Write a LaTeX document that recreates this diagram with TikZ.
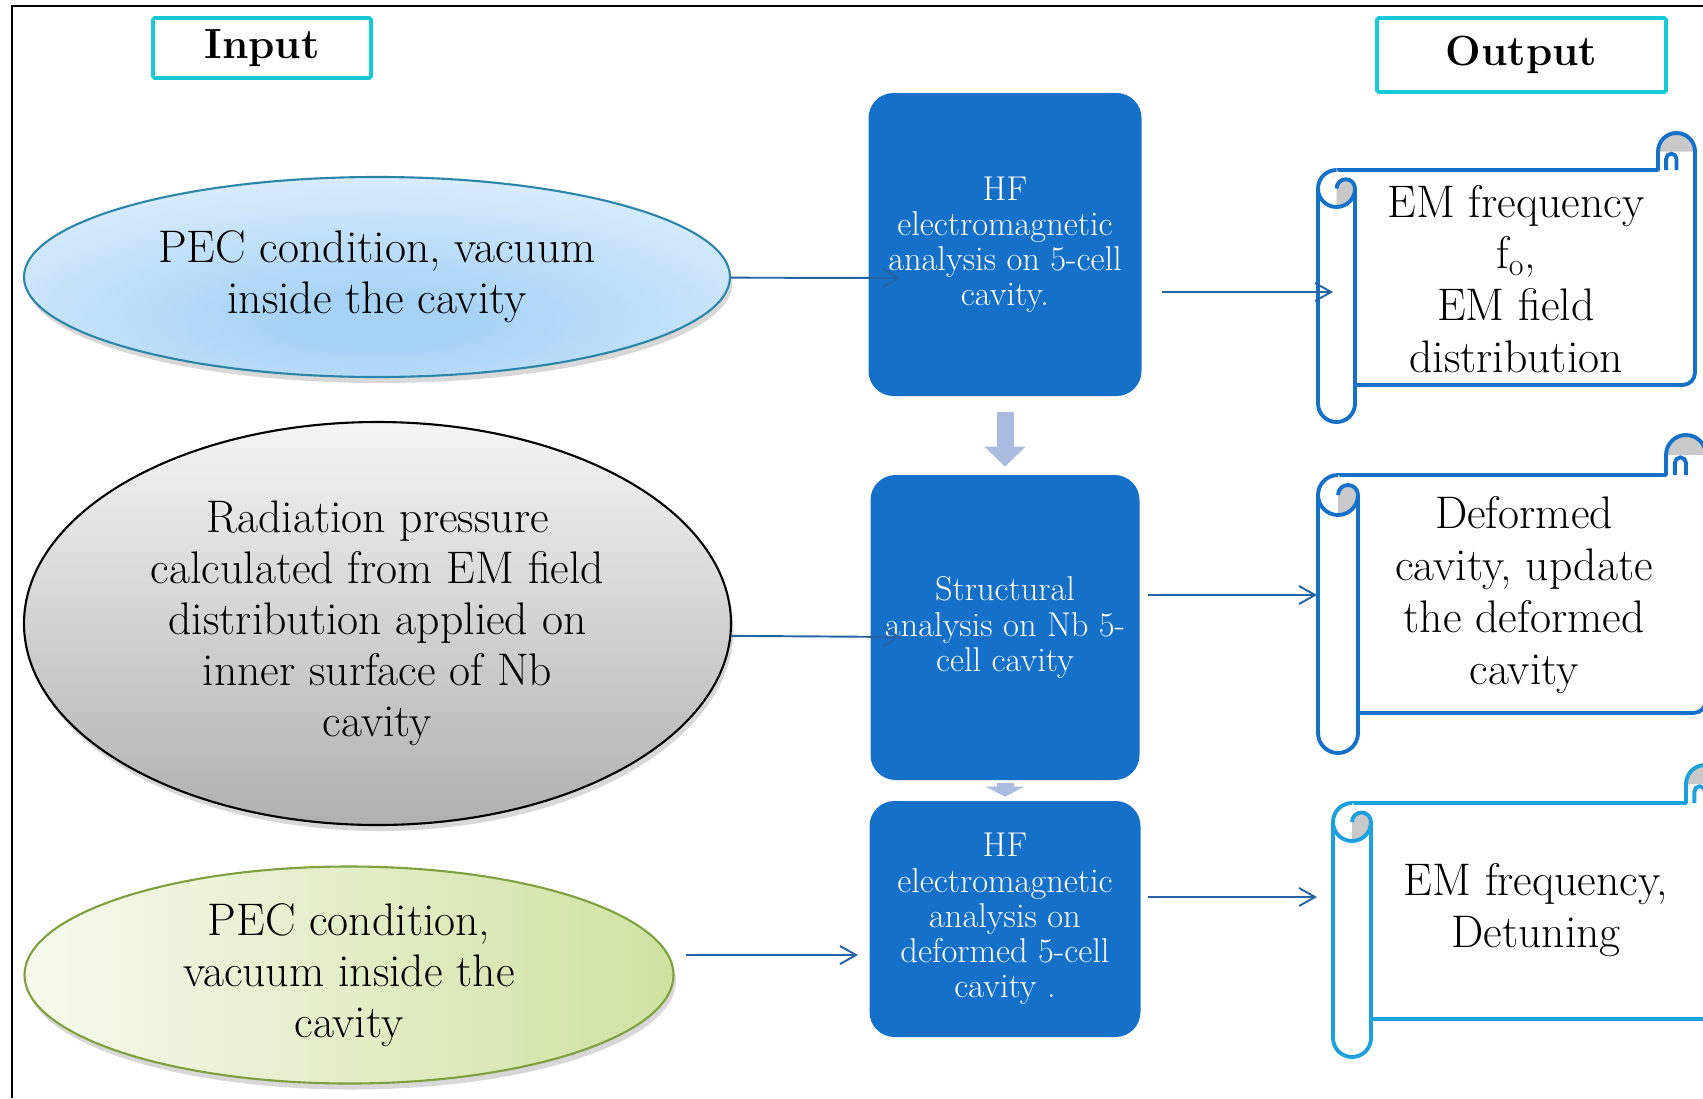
\documentclass[tikz,border=0pt]{standalone}
\usepackage{xcolor}
\definecolor{cavblue}{HTML}{1470C8}
\definecolor{cavlink}{HTML}{2463A6}
\definecolor{cavflow}{HTML}{A9BCE0}
\definecolor{cavcyan}{HTML}{17CAD8}
\definecolor{cavsky}{HTML}{1DA1DE}
\definecolor{cavgray}{HTML}{C9C9C9}
\definecolor{pecedge}{HTML}{2B86AA}
\definecolor{pecmid}{HTML}{A6D2F6}
\definecolor{pecpale}{HTML}{EEF7FF}
\definecolor{greenedge}{HTML}{7FA03F}
\definecolor{greenlight}{HTML}{F6FAEE}
\definecolor{greendark}{HTML}{CFE2A1}
\usepackage{tikz}
\usetikzlibrary{arrows.meta,positioning,shapes.geometric,shadows}
\pgfdeclareradialshading{pecshade}{\pgfpoint{0bp}{-12bp}}%
  {color(0bp)=(pecmid); color(6bp)=(pecmid); color(44bp)=(pecpale); color(100bp)=(pecpale)}

% scroll outline: #1 left, #2 top, #3 right, #4 bottom, #5 roll size, #6 colour
\newcommand{\drawscroll}[6]{%
  \fill[white] ({#1+#5/2},{#2-#5}) rectangle (#3,{#4+#5});
  \fill[cavgray] (#3,{#2-#5/2}) arc[start angle=0, end angle=180, radius=#5/2] -- cycle;
  \filldraw[draw=#6, fill=white, line width=2.2pt]
    ({#3-0.78*#5},{#2-#5}) -- ({#3-0.78*#5},{#2-0.7*#5})
    arc[start angle=180, end angle=0, radius=0.14*#5] -- ({#3-0.5*#5},{#2-#5});
  \draw[#6, line width=2.2pt, line join=round]
    ({#1+#5/2},{#2-#5}) -- ({#3-#5},{#2-#5}) -- ({#3-#5},{#2-#5/2})
    arc[start angle=180, end angle=0, radius=#5/2] -- (#3,{#4+#5+0.25})
    arc[start angle=0, end angle=-90, radius=0.25] -- ({#1+#5},{#4+#5});
  \filldraw[draw=#6, fill=white, line width=2.2pt, line join=round]
    ({#1+#5/2},{#2-#5}) arc[start angle=90, end angle=180, radius=#5/2]
    -- (#1,{#4+#5/2}) arc[start angle=180, end angle=360, radius=#5/2]
    -- ({#1+#5},{#2-1.5*#5});
  \fill[cavgray] ({#1+#5/2},{#2-1.5*#5}) arc[start angle=180, end angle=0, radius=#5/4]
    arc[start angle=0, end angle=-90, radius=#5/2] -- cycle;
  \draw[#6, line width=2.2pt]
    (#1,{#2-1.5*#5}) arc[start angle=180, end angle=360, radius=#5/2]
    ({#1+#5/2},{#2-1.5*#5}) arc[start angle=180, end angle=0, radius=#5/4];
}

\begin{document}
\begin{tikzpicture}[
  hdr/.style={rectangle, rounded corners=1pt, draw=cavcyan, line width=2.2pt,
              font=\bfseries\fontsize{24}{28}\selectfont, inner sep=0pt},
  inell/.style={ellipse, inner sep=0pt, align=center, line width=1.2pt,
                font=\fontsize{26}{29}\selectfont,
                drop shadow={shadow xshift=0.05cm, shadow yshift=-0.12cm, opacity=0.3}},
  blk/.style={rectangle, rounded corners=0.5cm, fill=cavblue, text=white,
              align=center, font=\fontsize{19.6}{20}\selectfont, inner sep=2pt},
  scrolltxt/.style={align=center, font=\fontsize{26}{29.5}\selectfont, inner sep=0pt},
  link/.style={-{Straight Barb[length=3.2mm, width=3.6mm]}, line width=1.1pt, cavlink},
  flow/.style={line width=0.34cm, cavflow},
]
\useasboundingbox (0,0) rectangle (34.06,-21.96);
\clip (0,0) rectangle (34.06,-21.96);
\fill[white] (0,0) rectangle (34.06,-21.96);

% frame
\draw[line width=1.1pt] (0.24,-21.96) -- (0.24,-0.12) -- (34.06,-0.12);

% ================= headers
\node[hdr, minimum width=4.36cm, minimum height=1.2cm] (inp) at (5.24,-0.96) {Input};
\node[hdr, minimum width=5.78cm, minimum height=1.48cm] (outp) at (30.43,-1.1) {Output};

% ================= inputs
\node[inell, draw=pecedge, shading=pecshade, minimum width=14.12cm, minimum height=4.0cm]
  (pec1) at (7.54,-5.54) {PEC condition, vacuum\\inside the cavity};
\node[inell, draw=black, top color=gray!8, bottom color=gray!62,
      minimum width=14.14cm, minimum height=8.06cm]
  (rad) at (7.55,-12.47) {Radiation pressure\\calculated from EM field\\distribution applied on\\inner surface of Nb\\cavity};
\node[inell, draw=greenedge, left color=greenlight, right color=greendark,
      minimum width=12.98cm, minimum height=4.34cm]
  (pec2) at (6.98,-19.5) {PEC condition,\\vacuum inside the\\cavity};

% ================= analysis steps
\node[blk, minimum width=5.46cm, minimum height=6.06cm] (hf1) at (20.1,-4.89)
  {HF\\electromagnetic\\analysis on 5-cell\\cavity.};
\node[blk, minimum width=5.38cm, minimum height=6.1cm] (st1) at (20.1,-12.55)
  {Structural\\analysis on Nb 5-\\cell cavity};
\node[blk, minimum width=5.42cm, minimum height=4.72cm] (hf2) at (20.1,-18.38)
  {HF\\electromagnetic\\analysis on\\deformed 5-cell\\cavity .};

\draw[flow, -{Triangle[length=0.4cm, width=0.8cm]}] ([yshift=-3.2mm]hf1.south) -- ([yshift=1.6mm]st1.north);
\draw[flow, -{Triangle[length=0.2cm, width=0.76cm]}] ([yshift=-0.6mm]st1.south) -- ([yshift=0.8mm]hf2.north);

% ================= outputs
\drawscroll{26.36}{-2.66}{33.9}{-8.44}{0.74}{cavblue}
\drawscroll{26.36}{-8.7}{34.12}{-15.06}{0.8}{cavblue}
\drawscroll{26.66}{-15.3}{34.48}{-21.14}{0.76}{cavsky}

\node[scrolltxt] (out1) at (30.32,-5.58) {EM frequency\\f\textsubscript{o},\\EM field\\distribution};
\node[scrolltxt] (out2) at (30.48,-11.9) {Deformed\\cavity, update\\the deformed\\cavity};
\node[scrolltxt] (out3) at (30.72,-18.2) {EM frequency,\\Detuning};

% ================= connectors
\coordinate (t1) at (18.02,-5.56);
\coordinate (s2) at (23.24,-5.84);  \coordinate (t2) at (26.66,-5.84);
\coordinate (t3) at (18.02,-12.74);
\coordinate (s4) at (22.96,-11.9);  \coordinate (t4) at (26.34,-11.9);
\coordinate (s5) at (13.72,-19.1);  \coordinate (t5) at (17.16,-19.1);
\coordinate (s6) at (22.96,-17.94); \coordinate (t6) at (26.34,-17.94);

\draw[link] (pec1) -- (t1);
\draw[link] (s2) -- (t2);
\draw[link] (rad.-2) -- (t3);
\draw[link] (s4) -- (t4);
\draw[link] (s5) -- (t5);
\draw[link] (s6) -- (t6);
\end{tikzpicture}
\end{document}
